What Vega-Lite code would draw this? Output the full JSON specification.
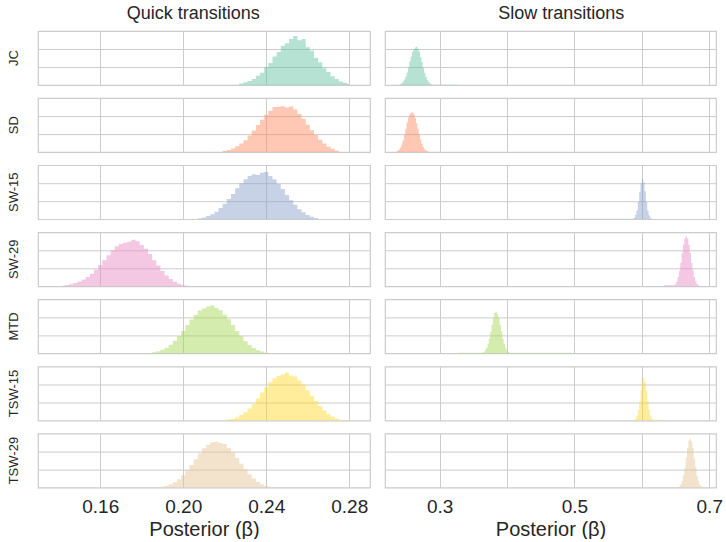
{
  "$schema": "https://vega.github.io/schema/vega-lite/v6.json",
  "padding": {"left": 7, "top": 5, "right": 3, "bottom": 0},
  "config": {
    "font": "Liberation Sans",
    "view": {"stroke": "#cccccc", "strokeWidth": 1.2},
    "axis": {"gridColor": "#cccccc", "gridWidth": 1, "labelColor": "#262626", "titleColor": "#262626", "labelFontSize": 19, "titleFontSize": 20, "titleFontWeight": "normal", "domain": false, "ticks": false, "labelPadding": 8, "titlePadding": 3},
    "title": {"fontSize": 18, "fontWeight": "normal", "color": "#262626", "anchor": "middle", "offset": 7},
    "header": {"labelColor": "#262626", "labelFontSize": 13}
  },
  "data": {"values": [
    {"m":"JC","t":"q","x":0.228,"y":0.08},{"m":"JC","t":"q","x":0.230,"y":0.15},{"m":"JC","t":"q","x":0.232,"y":0.22},{"m":"JC","t":"q","x":0.234,"y":0.33},{"m":"JC","t":"q","x":0.236,"y":0.52},{"m":"JC","t":"q","x":0.238,"y":0.68},{"m":"JC","t":"q","x":0.240,"y":1.00},{"m":"JC","t":"q","x":0.242,"y":1.22},{"m":"JC","t":"q","x":0.244,"y":1.58},{"m":"JC","t":"q","x":0.246,"y":1.83},{"m":"JC","t":"q","x":0.248,"y":2.18},{"m":"JC","t":"q","x":0.250,"y":2.32},{"m":"JC","t":"q","x":0.252,"y":2.56},{"m":"JC","t":"q","x":0.254,"y":2.72},{"m":"JC","t":"q","x":0.256,"y":2.48},{"m":"JC","t":"q","x":0.258,"y":2.55},{"m":"JC","t":"q","x":0.260,"y":2.10},{"m":"JC","t":"q","x":0.262,"y":1.90},{"m":"JC","t":"q","x":0.264,"y":1.52},{"m":"JC","t":"q","x":0.266,"y":1.27},{"m":"JC","t":"q","x":0.268,"y":0.93},{"m":"JC","t":"q","x":0.270,"y":0.72},{"m":"JC","t":"q","x":0.272,"y":0.48},{"m":"JC","t":"q","x":0.274,"y":0.33},{"m":"JC","t":"q","x":0.276,"y":0.20},{"m":"JC","t":"q","x":0.278,"y":0.12},{"m":"JC","t":"q","x":0.280,"y":0.05},
    {"m":"SD","t":"q","x":0.220,"y":0.06},{"m":"SD","t":"q","x":0.222,"y":0.12},{"m":"SD","t":"q","x":0.224,"y":0.20},{"m":"SD","t":"q","x":0.226,"y":0.32},{"m":"SD","t":"q","x":0.228,"y":0.48},{"m":"SD","t":"q","x":0.230,"y":0.66},{"m":"SD","t":"q","x":0.232,"y":0.92},{"m":"SD","t":"q","x":0.234,"y":1.20},{"m":"SD","t":"q","x":0.236,"y":1.50},{"m":"SD","t":"q","x":0.238,"y":1.80},{"m":"SD","t":"q","x":0.240,"y":2.08},{"m":"SD","t":"q","x":0.242,"y":2.30},{"m":"SD","t":"q","x":0.244,"y":2.50},{"m":"SD","t":"q","x":0.246,"y":2.52},{"m":"SD","t":"q","x":0.248,"y":2.55},{"m":"SD","t":"q","x":0.250,"y":2.48},{"m":"SD","t":"q","x":0.252,"y":2.53},{"m":"SD","t":"q","x":0.254,"y":2.36},{"m":"SD","t":"q","x":0.256,"y":2.12},{"m":"SD","t":"q","x":0.258,"y":1.85},{"m":"SD","t":"q","x":0.260,"y":1.52},{"m":"SD","t":"q","x":0.262,"y":1.22},{"m":"SD","t":"q","x":0.264,"y":0.95},{"m":"SD","t":"q","x":0.266,"y":0.68},{"m":"SD","t":"q","x":0.268,"y":0.48},{"m":"SD","t":"q","x":0.270,"y":0.30},{"m":"SD","t":"q","x":0.272,"y":0.18},{"m":"SD","t":"q","x":0.274,"y":0.08},
    {"m":"SW-15","t":"q","x":0.208,"y":0.05},{"m":"SW-15","t":"q","x":0.210,"y":0.10},{"m":"SW-15","t":"q","x":0.212,"y":0.18},{"m":"SW-15","t":"q","x":0.214,"y":0.28},{"m":"SW-15","t":"q","x":0.216,"y":0.42},{"m":"SW-15","t":"q","x":0.218,"y":0.62},{"m":"SW-15","t":"q","x":0.220,"y":0.86},{"m":"SW-15","t":"q","x":0.222,"y":1.12},{"m":"SW-15","t":"q","x":0.224,"y":1.40},{"m":"SW-15","t":"q","x":0.226,"y":1.72},{"m":"SW-15","t":"q","x":0.228,"y":2.00},{"m":"SW-15","t":"q","x":0.230,"y":2.22},{"m":"SW-15","t":"q","x":0.232,"y":2.40},{"m":"SW-15","t":"q","x":0.234,"y":2.50},{"m":"SW-15","t":"q","x":0.236,"y":2.46},{"m":"SW-15","t":"q","x":0.238,"y":2.58},{"m":"SW-15","t":"q","x":0.240,"y":2.62},{"m":"SW-15","t":"q","x":0.242,"y":2.40},{"m":"SW-15","t":"q","x":0.244,"y":2.22},{"m":"SW-15","t":"q","x":0.246,"y":1.95},{"m":"SW-15","t":"q","x":0.248,"y":1.68},{"m":"SW-15","t":"q","x":0.250,"y":1.35},{"m":"SW-15","t":"q","x":0.252,"y":1.05},{"m":"SW-15","t":"q","x":0.254,"y":0.80},{"m":"SW-15","t":"q","x":0.256,"y":0.55},{"m":"SW-15","t":"q","x":0.258,"y":0.38},{"m":"SW-15","t":"q","x":0.260,"y":0.24},{"m":"SW-15","t":"q","x":0.262,"y":0.14},{"m":"SW-15","t":"q","x":0.264,"y":0.07},
    {"m":"SW-29","t":"q","x":0.142,"y":0.04},{"m":"SW-29","t":"q","x":0.144,"y":0.07},{"m":"SW-29","t":"q","x":0.146,"y":0.12},{"m":"SW-29","t":"q","x":0.148,"y":0.18},{"m":"SW-29","t":"q","x":0.150,"y":0.27},{"m":"SW-29","t":"q","x":0.152,"y":0.38},{"m":"SW-29","t":"q","x":0.154,"y":0.52},{"m":"SW-29","t":"q","x":0.156,"y":0.70},{"m":"SW-29","t":"q","x":0.158,"y":0.92},{"m":"SW-29","t":"q","x":0.160,"y":1.18},{"m":"SW-29","t":"q","x":0.162,"y":1.45},{"m":"SW-29","t":"q","x":0.164,"y":1.72},{"m":"SW-29","t":"q","x":0.166,"y":2.00},{"m":"SW-29","t":"q","x":0.168,"y":2.22},{"m":"SW-29","t":"q","x":0.170,"y":2.35},{"m":"SW-29","t":"q","x":0.172,"y":2.42},{"m":"SW-29","t":"q","x":0.174,"y":2.48},{"m":"SW-29","t":"q","x":0.176,"y":2.58},{"m":"SW-29","t":"q","x":0.178,"y":2.50},{"m":"SW-29","t":"q","x":0.180,"y":2.30},{"m":"SW-29","t":"q","x":0.182,"y":2.08},{"m":"SW-29","t":"q","x":0.184,"y":1.80},{"m":"SW-29","t":"q","x":0.186,"y":1.45},{"m":"SW-29","t":"q","x":0.188,"y":1.15},{"m":"SW-29","t":"q","x":0.190,"y":0.85},{"m":"SW-29","t":"q","x":0.192,"y":0.60},{"m":"SW-29","t":"q","x":0.194,"y":0.40},{"m":"SW-29","t":"q","x":0.196,"y":0.25},{"m":"SW-29","t":"q","x":0.198,"y":0.14},{"m":"SW-29","t":"q","x":0.200,"y":0.07},{"m":"SW-29","t":"q","x":0.202,"y":0.03},
    {"m":"MTD","t":"q","x":0.186,"y":0.06},{"m":"MTD","t":"q","x":0.188,"y":0.12},{"m":"MTD","t":"q","x":0.190,"y":0.20},{"m":"MTD","t":"q","x":0.192,"y":0.32},{"m":"MTD","t":"q","x":0.194,"y":0.48},{"m":"MTD","t":"q","x":0.196,"y":0.70},{"m":"MTD","t":"q","x":0.198,"y":0.96},{"m":"MTD","t":"q","x":0.200,"y":1.25},{"m":"MTD","t":"q","x":0.202,"y":1.58},{"m":"MTD","t":"q","x":0.204,"y":1.88},{"m":"MTD","t":"q","x":0.206,"y":2.15},{"m":"MTD","t":"q","x":0.208,"y":2.38},{"m":"MTD","t":"q","x":0.210,"y":2.50},{"m":"MTD","t":"q","x":0.212,"y":2.60},{"m":"MTD","t":"q","x":0.214,"y":2.66},{"m":"MTD","t":"q","x":0.216,"y":2.52},{"m":"MTD","t":"q","x":0.218,"y":2.40},{"m":"MTD","t":"q","x":0.220,"y":2.15},{"m":"MTD","t":"q","x":0.222,"y":1.90},{"m":"MTD","t":"q","x":0.224,"y":1.58},{"m":"MTD","t":"q","x":0.226,"y":1.25},{"m":"MTD","t":"q","x":0.228,"y":0.95},{"m":"MTD","t":"q","x":0.230,"y":0.68},{"m":"MTD","t":"q","x":0.232,"y":0.46},{"m":"MTD","t":"q","x":0.234,"y":0.30},{"m":"MTD","t":"q","x":0.236,"y":0.18},{"m":"MTD","t":"q","x":0.238,"y":0.10},{"m":"MTD","t":"q","x":0.240,"y":0.04},
    {"m":"TSW-15","t":"q","x":0.222,"y":0.05},{"m":"TSW-15","t":"q","x":0.224,"y":0.10},{"m":"TSW-15","t":"q","x":0.226,"y":0.18},{"m":"TSW-15","t":"q","x":0.228,"y":0.30},{"m":"TSW-15","t":"q","x":0.230,"y":0.46},{"m":"TSW-15","t":"q","x":0.232,"y":0.66},{"m":"TSW-15","t":"q","x":0.234,"y":0.92},{"m":"TSW-15","t":"q","x":0.236,"y":1.22},{"m":"TSW-15","t":"q","x":0.238,"y":1.55},{"m":"TSW-15","t":"q","x":0.240,"y":1.85},{"m":"TSW-15","t":"q","x":0.242,"y":2.12},{"m":"TSW-15","t":"q","x":0.244,"y":2.35},{"m":"TSW-15","t":"q","x":0.246,"y":2.48},{"m":"TSW-15","t":"q","x":0.248,"y":2.55},{"m":"TSW-15","t":"q","x":0.250,"y":2.66},{"m":"TSW-15","t":"q","x":0.252,"y":2.50},{"m":"TSW-15","t":"q","x":0.254,"y":2.45},{"m":"TSW-15","t":"q","x":0.256,"y":2.22},{"m":"TSW-15","t":"q","x":0.258,"y":1.98},{"m":"TSW-15","t":"q","x":0.260,"y":1.68},{"m":"TSW-15","t":"q","x":0.262,"y":1.38},{"m":"TSW-15","t":"q","x":0.264,"y":1.08},{"m":"TSW-15","t":"q","x":0.266,"y":0.80},{"m":"TSW-15","t":"q","x":0.268,"y":0.56},{"m":"TSW-15","t":"q","x":0.270,"y":0.36},{"m":"TSW-15","t":"q","x":0.272,"y":0.22},{"m":"TSW-15","t":"q","x":0.274,"y":0.11},{"m":"TSW-15","t":"q","x":0.276,"y":0.04},
    {"m":"TSW-29","t":"q","x":0.190,"y":0.05},{"m":"TSW-29","t":"q","x":0.192,"y":0.10},{"m":"TSW-29","t":"q","x":0.194,"y":0.18},{"m":"TSW-29","t":"q","x":0.196,"y":0.30},{"m":"TSW-29","t":"q","x":0.198,"y":0.46},{"m":"TSW-29","t":"q","x":0.200,"y":0.68},{"m":"TSW-29","t":"q","x":0.202,"y":0.95},{"m":"TSW-29","t":"q","x":0.204,"y":1.25},{"m":"TSW-29","t":"q","x":0.206,"y":1.58},{"m":"TSW-29","t":"q","x":0.208,"y":1.90},{"m":"TSW-29","t":"q","x":0.210,"y":2.18},{"m":"TSW-29","t":"q","x":0.212,"y":2.38},{"m":"TSW-29","t":"q","x":0.214,"y":2.52},{"m":"TSW-29","t":"q","x":0.216,"y":2.55},{"m":"TSW-29","t":"q","x":0.218,"y":2.48},{"m":"TSW-29","t":"q","x":0.220,"y":2.42},{"m":"TSW-29","t":"q","x":0.222,"y":2.20},{"m":"TSW-29","t":"q","x":0.224,"y":1.95},{"m":"TSW-29","t":"q","x":0.226,"y":1.65},{"m":"TSW-29","t":"q","x":0.228,"y":1.32},{"m":"TSW-29","t":"q","x":0.230,"y":1.02},{"m":"TSW-29","t":"q","x":0.232,"y":0.74},{"m":"TSW-29","t":"q","x":0.234,"y":0.50},{"m":"TSW-29","t":"q","x":0.236,"y":0.32},{"m":"TSW-29","t":"q","x":0.238,"y":0.18},{"m":"TSW-29","t":"q","x":0.240,"y":0.09},{"m":"TSW-29","t":"q","x":0.242,"y":0.04},
    {"m":"JC","t":"s","x":0.242,"y":0.05},{"m":"JC","t":"s","x":0.244,"y":0.10},{"m":"JC","t":"s","x":0.246,"y":0.18},{"m":"JC","t":"s","x":0.248,"y":0.30},{"m":"JC","t":"s","x":0.250,"y":0.46},{"m":"JC","t":"s","x":0.252,"y":0.70},{"m":"JC","t":"s","x":0.254,"y":0.98},{"m":"JC","t":"s","x":0.256,"y":1.30},{"m":"JC","t":"s","x":0.258,"y":1.58},{"m":"JC","t":"s","x":0.260,"y":1.85},{"m":"JC","t":"s","x":0.262,"y":2.00},{"m":"JC","t":"s","x":0.264,"y":2.08},{"m":"JC","t":"s","x":0.266,"y":2.12},{"m":"JC","t":"s","x":0.268,"y":2.02},{"m":"JC","t":"s","x":0.270,"y":1.85},{"m":"JC","t":"s","x":0.272,"y":1.55},{"m":"JC","t":"s","x":0.274,"y":1.28},{"m":"JC","t":"s","x":0.276,"y":0.96},{"m":"JC","t":"s","x":0.278,"y":0.68},{"m":"JC","t":"s","x":0.280,"y":0.45},{"m":"JC","t":"s","x":0.282,"y":0.28},{"m":"JC","t":"s","x":0.284,"y":0.16},{"m":"JC","t":"s","x":0.286,"y":0.09},{"m":"JC","t":"s","x":0.288,"y":0.04},{"m":"JC","t":"s","x":0.290,"y":0.02},
    {"m":"SD","t":"s","x":0.236,"y":0.04},{"m":"SD","t":"s","x":0.238,"y":0.08},{"m":"SD","t":"s","x":0.240,"y":0.15},{"m":"SD","t":"s","x":0.242,"y":0.26},{"m":"SD","t":"s","x":0.244,"y":0.42},{"m":"SD","t":"s","x":0.246,"y":0.65},{"m":"SD","t":"s","x":0.248,"y":0.95},{"m":"SD","t":"s","x":0.250,"y":1.30},{"m":"SD","t":"s","x":0.252,"y":1.65},{"m":"SD","t":"s","x":0.254,"y":1.92},{"m":"SD","t":"s","x":0.256,"y":2.10},{"m":"SD","t":"s","x":0.258,"y":2.18},{"m":"SD","t":"s","x":0.260,"y":2.22},{"m":"SD","t":"s","x":0.262,"y":2.10},{"m":"SD","t":"s","x":0.264,"y":1.90},{"m":"SD","t":"s","x":0.266,"y":1.62},{"m":"SD","t":"s","x":0.268,"y":1.30},{"m":"SD","t":"s","x":0.270,"y":0.98},{"m":"SD","t":"s","x":0.272,"y":0.70},{"m":"SD","t":"s","x":0.274,"y":0.46},{"m":"SD","t":"s","x":0.276,"y":0.28},{"m":"SD","t":"s","x":0.278,"y":0.16},{"m":"SD","t":"s","x":0.280,"y":0.09},{"m":"SD","t":"s","x":0.282,"y":0.05},{"m":"SD","t":"s","x":0.284,"y":0.02},
    {"m":"SW-15","t":"s","x":0.587,"y":0.03},{"m":"SW-15","t":"s","x":0.589,"y":0.10},{"m":"SW-15","t":"s","x":0.591,"y":0.25},{"m":"SW-15","t":"s","x":0.593,"y":0.50},{"m":"SW-15","t":"s","x":0.595,"y":0.95},{"m":"SW-15","t":"s","x":0.597,"y":1.50},{"m":"SW-15","t":"s","x":0.599,"y":2.00},{"m":"SW-15","t":"s","x":0.601,"y":2.25},{"m":"SW-15","t":"s","x":0.603,"y":2.05},{"m":"SW-15","t":"s","x":0.605,"y":1.55},{"m":"SW-15","t":"s","x":0.607,"y":0.95},{"m":"SW-15","t":"s","x":0.609,"y":0.48},{"m":"SW-15","t":"s","x":0.611,"y":0.22},{"m":"SW-15","t":"s","x":0.613,"y":0.08},{"m":"SW-15","t":"s","x":0.615,"y":0.03},
    {"m":"SW-29","t":"s","x":0.648,"y":0.06},{"m":"SW-29","t":"s","x":0.650,"y":0.13},{"m":"SW-29","t":"s","x":0.652,"y":0.27},{"m":"SW-29","t":"s","x":0.654,"y":0.51},{"m":"SW-29","t":"s","x":0.656,"y":0.86},{"m":"SW-29","t":"s","x":0.658,"y":1.31},{"m":"SW-29","t":"s","x":0.660,"y":1.83},{"m":"SW-29","t":"s","x":0.662,"y":2.32},{"m":"SW-29","t":"s","x":0.664,"y":2.67},{"m":"SW-29","t":"s","x":0.666,"y":2.80},{"m":"SW-29","t":"s","x":0.668,"y":2.65},{"m":"SW-29","t":"s","x":0.670,"y":2.30},{"m":"SW-29","t":"s","x":0.672,"y":1.85},{"m":"SW-29","t":"s","x":0.674,"y":1.30},{"m":"SW-29","t":"s","x":0.676,"y":0.88},{"m":"SW-29","t":"s","x":0.678,"y":0.50},{"m":"SW-29","t":"s","x":0.680,"y":0.28},{"m":"SW-29","t":"s","x":0.682,"y":0.13},{"m":"SW-29","t":"s","x":0.684,"y":0.06},{"m":"SW-29","t":"s","x":0.686,"y":0.02},
    {"m":"MTD","t":"s","x":0.364,"y":0.04},{"m":"MTD","t":"s","x":0.366,"y":0.08},{"m":"MTD","t":"s","x":0.368,"y":0.17},{"m":"MTD","t":"s","x":0.370,"y":0.31},{"m":"MTD","t":"s","x":0.372,"y":0.53},{"m":"MTD","t":"s","x":0.374,"y":0.83},{"m":"MTD","t":"s","x":0.376,"y":1.20},{"m":"MTD","t":"s","x":0.378,"y":1.59},{"m":"MTD","t":"s","x":0.380,"y":1.95},{"m":"MTD","t":"s","x":0.382,"y":2.25},{"m":"MTD","t":"s","x":0.384,"y":2.32},{"m":"MTD","t":"s","x":0.386,"y":2.18},{"m":"MTD","t":"s","x":0.388,"y":1.97},{"m":"MTD","t":"s","x":0.390,"y":1.58},{"m":"MTD","t":"s","x":0.392,"y":1.22},{"m":"MTD","t":"s","x":0.394,"y":0.82},{"m":"MTD","t":"s","x":0.396,"y":0.54},{"m":"MTD","t":"s","x":0.398,"y":0.32},{"m":"MTD","t":"s","x":0.400,"y":0.16},{"m":"MTD","t":"s","x":0.402,"y":0.08},{"m":"MTD","t":"s","x":0.404,"y":0.04},
    {"m":"TSW-15","t":"s","x":0.589,"y":0.03},{"m":"TSW-15","t":"s","x":0.591,"y":0.10},{"m":"TSW-15","t":"s","x":0.593,"y":0.27},{"m":"TSW-15","t":"s","x":0.595,"y":0.58},{"m":"TSW-15","t":"s","x":0.597,"y":1.06},{"m":"TSW-15","t":"s","x":0.599,"y":1.65},{"m":"TSW-15","t":"s","x":0.601,"y":2.14},{"m":"TSW-15","t":"s","x":0.603,"y":2.35},{"m":"TSW-15","t":"s","x":0.605,"y":2.12},{"m":"TSW-15","t":"s","x":0.607,"y":1.64},{"m":"TSW-15","t":"s","x":0.609,"y":1.08},{"m":"TSW-15","t":"s","x":0.611,"y":0.57},{"m":"TSW-15","t":"s","x":0.613,"y":0.26},{"m":"TSW-15","t":"s","x":0.615,"y":0.11},{"m":"TSW-15","t":"s","x":0.617,"y":0.04},
    {"m":"TSW-29","t":"s","x":0.654,"y":0.04},{"m":"TSW-29","t":"s","x":0.656,"y":0.08},{"m":"TSW-29","t":"s","x":0.658,"y":0.18},{"m":"TSW-29","t":"s","x":0.660,"y":0.37},{"m":"TSW-29","t":"s","x":0.662,"y":0.68},{"m":"TSW-29","t":"s","x":0.664,"y":1.12},{"m":"TSW-29","t":"s","x":0.666,"y":1.65},{"m":"TSW-29","t":"s","x":0.668,"y":2.18},{"m":"TSW-29","t":"s","x":0.670,"y":2.60},{"m":"TSW-29","t":"s","x":0.672,"y":2.73},{"m":"TSW-29","t":"s","x":0.674,"y":2.55},{"m":"TSW-29","t":"s","x":0.676,"y":2.20},{"m":"TSW-29","t":"s","x":0.678,"y":1.63},{"m":"TSW-29","t":"s","x":0.680,"y":1.14},{"m":"TSW-29","t":"s","x":0.682,"y":0.66},{"m":"TSW-29","t":"s","x":0.684,"y":0.38},{"m":"TSW-29","t":"s","x":0.686,"y":0.17},{"m":"TSW-29","t":"s","x":0.688,"y":0.08},{"m":"TSW-29","t":"s","x":0.690,"y":0.03}
  ]},
  "spacing": 13,
  "hconcat": [
    {
      "transform": [{"filter": "datum.t == 'q'"}],
      "title": {"text": "Quick transitions", "dx": 4},
      "facet": {"row": {"field": "m", "type": "nominal", "sort": ["JC","SD","SW-15","SW-29","MTD","TSW-15","TSW-29"], "title": null, "header": {"labelAngle": -90, "labelOrient": "left", "labelPadding": 10, "labelFontSize": 13}}},
      "spacing": 11.1,
      "spec": {
        "width": 332, "height": 54,
        "mark": {"type": "area", "interpolate": "step", "fillOpacity": 0.48, "clip": true},
        "encoding": {
          "x": {"field": "x", "type": "quantitative", "scale": {"domain": [0.13, 0.29], "nice": false, "zero": false}, "axis": {"values": [0.16, 0.2, 0.24, 0.28], "format": ".2f", "title": "Posterior (β)"}},
          "y": {"field": "y", "type": "quantitative", "scale": {"domain": [0, 3], "nice": false}, "axis": {"values": [1, 2], "labels": false, "title": null}},
          "color": {"field": "m", "type": "nominal", "scale": {"domain": ["JC","SD","SW-15","SW-29","MTD","TSW-15","TSW-29"], "range": ["#66c2a5","#fc8d62","#8da0cb","#e78ac3","#a6d854","#ffd92f","#e5c494"]}, "legend": null}
        }
      }
    },
    {
      "transform": [{"filter": "datum.t == 's'"}],
      "title": {"text": "Slow transitions", "dx": 8},
      "facet": {"row": {"field": "m", "type": "nominal", "sort": ["JC","SD","SW-15","SW-29","MTD","TSW-15","TSW-29"], "title": null, "header": {"labels": false}}},
      "spacing": 11.1,
      "spec": {
        "width": 331, "height": 54,
        "mark": {"type": "area", "interpolate": "step", "fillOpacity": 0.48, "clip": true},
        "encoding": {
          "x": {"field": "x", "type": "quantitative", "scale": {"domain": [0.219, 0.71], "nice": false, "zero": false}, "axis": {"values": [0.3, 0.4, 0.5, 0.6, 0.7], "labelExpr": "datum.value == 0.4 || datum.value == 0.6 ? '' : format(datum.value, '.1f')", "title": "Posterior (β)"}},
          "y": {"field": "y", "type": "quantitative", "scale": {"domain": [0, 3], "nice": false}, "axis": {"values": [1, 2], "labels": false, "title": null}},
          "color": {"field": "m", "type": "nominal", "scale": {"domain": ["JC","SD","SW-15","SW-29","MTD","TSW-15","TSW-29"], "range": ["#66c2a5","#fc8d62","#8da0cb","#e78ac3","#a6d854","#ffd92f","#e5c494"]}, "legend": null}
        }
      }
    }
  ]
}
